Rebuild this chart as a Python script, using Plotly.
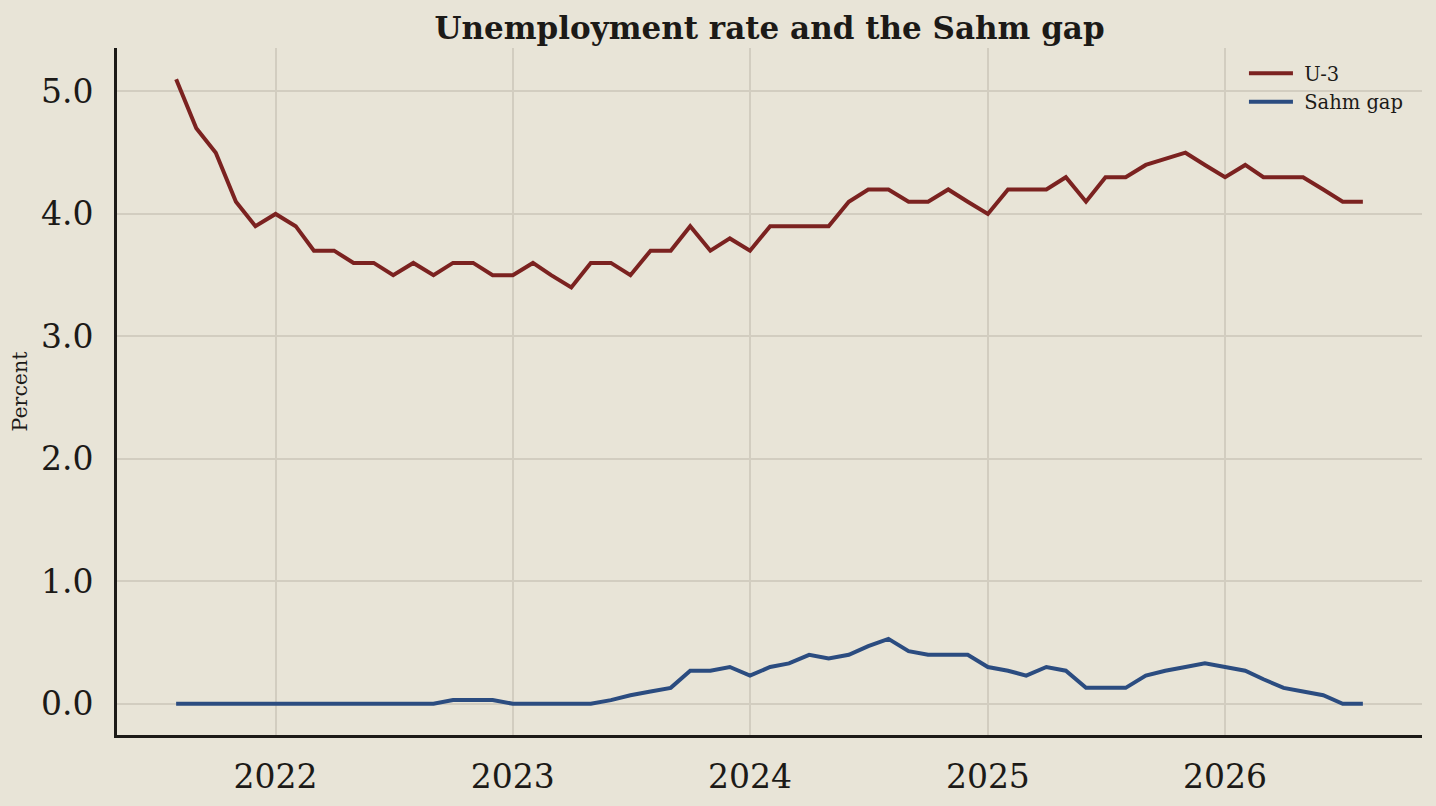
import pandas as pd
import plotly.graph_objects as go

months = pd.date_range("2021-08-01", periods=61, freq="MS")

u3 = [
    5.1, 4.7, 4.5, 4.1, 3.9,
    4.0, 3.9, 3.7, 3.7, 3.6, 3.6, 3.5, 3.6, 3.5, 3.6, 3.6, 3.5,
    3.5, 3.6, 3.5, 3.4, 3.6, 3.6, 3.5, 3.7, 3.7, 3.9, 3.7, 3.8,
    3.7, 3.9, 3.9, 3.9, 3.9, 4.1, 4.2, 4.2, 4.1, 4.1, 4.2, 4.1,
    4.0, 4.2, 4.2, 4.2, 4.3, 4.1, 4.3, 4.3, 4.4, 4.45, 4.5, 4.4,
    4.3, 4.4, 4.3, 4.3, 4.3, 4.2, 4.1, 4.1,
]

sahm_gap = [
    0, 0, 0, 0, 0,
    0, 0, 0, 0, 0, 0, 0, 0, 0, 0.03, 0.03, 0.03,
    0, 0, 0, 0, 0, 0.03, 0.07, 0.10, 0.13, 0.27, 0.27, 0.30,
    0.23, 0.30, 0.33, 0.40, 0.37, 0.40, 0.47, 0.53, 0.43, 0.40, 0.40, 0.40,
    0.30, 0.27, 0.23, 0.30, 0.27, 0.13, 0.13, 0.13, 0.23, 0.27, 0.30, 0.33,
    0.30, 0.27, 0.20, 0.13, 0.10, 0.07, 0, 0,
]

y_ticks = [0, 1, 2, 3, 4, 5]
y_tick_labels = ["0.0", "1.0", "2.0", "3.0", "4.0", "5.0"]
x_ticks = ["2022-01-01", "2023-01-01", "2024-01-01", "2025-01-01", "2026-01-01"]
x_tick_labels = ["2022", "2023", "2024", "2025", "2026"]

BG = "#E8E4D7"
GRID = "#D2CDC0"
INK = "#1C1A17"
FONT = "DejaVu Serif"
NB = "\u00a0"

fig = go.Figure()
fig.add_trace(go.Scatter(x=months, y=u3, mode="lines", name=NB + "U-3",
                         line=dict(color="#7B2220", width=4)))
fig.add_trace(go.Scatter(x=months, y=sahm_gap, mode="lines", name=NB + "Sahm gap",
                         line=dict(color="#2B4C80", width=4)))

fig.update_layout(
    width=1436, height=806,
    paper_bgcolor=BG, plot_bgcolor=BG,
    margin=dict(l=117, r=14, t=48, b=71, autoexpand=False),
    font=dict(family=FONT, color=INK),
    title=dict(text="<b>Unemployment rate and the Sahm gap</b>",
               font=dict(family=FONT, size=31, color=INK),
               x=0.5, xref="paper", xanchor="center",
               y=1 - 28 / 806, yref="container", yanchor="middle"),
    showlegend=True,
    legend=dict(x=0.990, y=0.991, xanchor="right", yanchor="top",
                bgcolor="rgba(0,0,0,0)", borderwidth=0,
                font=dict(family=FONT, size=19.5, color=INK),
                itemwidth=44, tracegroupgap=0),
)

fig.update_xaxes(
    type="date",
    range=["2021-05-02", "2026-10-31"],
    tickvals=x_ticks, ticktext=x_tick_labels,
    showgrid=True, gridcolor=GRID, gridwidth=2,
    showline=True, linecolor=INK, linewidth=3, mirror=False,
    ticks="", ticklabelstandoff=10, automargin=False,
    tickfont=dict(family=FONT, size=33, color=INK),
    zeroline=False,
)
fig.update_yaxes(
    range=[-0.255, 5.355],
    tickvals=y_ticks, ticktext=y_tick_labels,
    showgrid=True, gridcolor=GRID, gridwidth=2,
    showline=True, linecolor=INK, linewidth=3, mirror=False,
    ticks="", ticklabelstandoff=14, automargin=False,
    tickfont=dict(family=FONT, size=33, color=INK),
    zeroline=False,
    title=dict(text="Percent", font=dict(family=FONT, size=20.5, color=INK), standoff=8),
)

fig.write_html("out.html", config={"displayModeBar": False},
               post_script="document.body.style.margin='0';document.body.style.background='" + BG + "';")
